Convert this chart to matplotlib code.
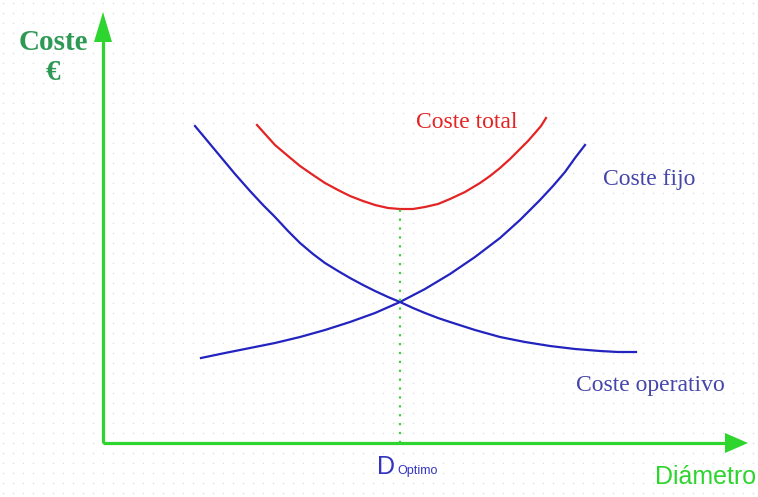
import numpy as np
import matplotlib
matplotlib.use("Agg")
import matplotlib.pyplot as plt

# curves: diameter (x) and cost (y), origin at the axes corner
op_d = [92, 102, 112, 122, 132, 147, 160, 172, 185, 197, 210, 222, 235, 247, 260,
        272, 285, 297, 310, 322, 335, 347, 372, 397, 422, 447, 472, 497, 515, 533]
op_c = [317, 305, 293, 281, 269, 252, 238, 226, 212, 200, 189, 180, 172, 165, 158,
        152, 146, 141, 135, 130, 125, 121, 113, 106, 101, 97, 94, 92, 91, 91]

fijo_d = [98, 122, 147, 172, 197, 222, 247, 272, 297, 322, 347, 372, 397, 417,
          437, 450, 462, 472, 482]
fijo_c = [85, 90, 95, 100, 106, 113, 121, 130, 141, 154, 169, 186, 205, 223,
          243, 257, 271, 285, 298]

total_d = [154, 163, 172, 185, 197, 210, 222, 235, 247, 260, 272, 285, 297, 310,
           322, 335, 347, 362, 377, 387, 397, 407, 417, 425, 432, 438, 443]
total_c = [318, 308, 298, 287, 277, 268, 260, 253, 247, 242, 238, 235, 234, 234,
           236, 239, 244, 251, 260, 267, 275, 284, 294, 302, 310, 317, 325]

d_opt = 297
c_opt = 234

green = "#2ed52e"
blue = "#2323c0"
red = "#e42424"

fig = plt.figure(figsize=(7.58, 4.97), dpi=100)
ax = fig.add_axes([0, 0, 1, 1])
ax.set_xlim(-103, 655)
ax.set_ylim(-54, 443)
ax.axis("off")

# dotted paper background
gx, gy = np.meshgrid(np.arange(-100, 655, 10), np.arange(-50, 443, 10))
ax.scatter(gx.ravel(), gy.ravel(), s=1.2, color="#dcdcdc", linewidths=0, zorder=0)

# axes with arrow heads
ax.plot([0, 0], [0, 405], color=green, lw=2.3, solid_capstyle="butt")
ax.fill([-9, 9, 0], [401, 401, 431], color=green, lw=0)
ax.plot([0, 626], [0, 0], color=green, lw=2.3, solid_capstyle="butt")
ax.fill([622, 622, 645], [-10, 10, 0], color=green, lw=0)

# curves
ax.plot(op_d, op_c, color=blue, lw=1.6, solid_joinstyle="round")
ax.plot(fijo_d, fijo_c, color=blue, lw=1.6, solid_joinstyle="round")
ax.plot(total_d, total_c, color=red, lw=1.6, solid_joinstyle="round")
ax.plot([d_opt, d_opt], [0, c_opt], color="#44cc44", lw=1.6, ls=(0, (1, 3)))

# labels
ax.text(-50, 401, "Coste", color="#2e9955", fontsize=21, fontweight="bold",
        family="Liberation Serif", ha="center", va="center")
ax.text(-50, 370, "€", color="#2e9955", fontsize=21, fontweight="bold",
        family="Liberation Serif", ha="center", va="center")
ax.text(653, -34, "Diámetro", color=green, fontsize=18,
        family="Liberation Sans", ha="right", va="center")
ax.text(283, -24, "D", color="#3434c0", fontsize=18,
        family="Liberation Sans", ha="center", va="center")
ax.text(294, -28, "Optimo", color="#3434c0", fontsize=9,
        family="Liberation Sans", ha="left", va="center")
ax.text(364, 321, "Coste total", color=red, fontsize=17,
        family="Liberation Serif", ha="center", va="center")
ax.text(546, 263, "Coste fijo", color="#4545aa", fontsize=17,
        family="Liberation Serif", ha="center", va="center")
ax.text(547, 58, "Coste operativo", color="#4545aa", fontsize=17,
        family="Liberation Serif", ha="center", va="center")

fig.savefig("out.png", dpi=100)
